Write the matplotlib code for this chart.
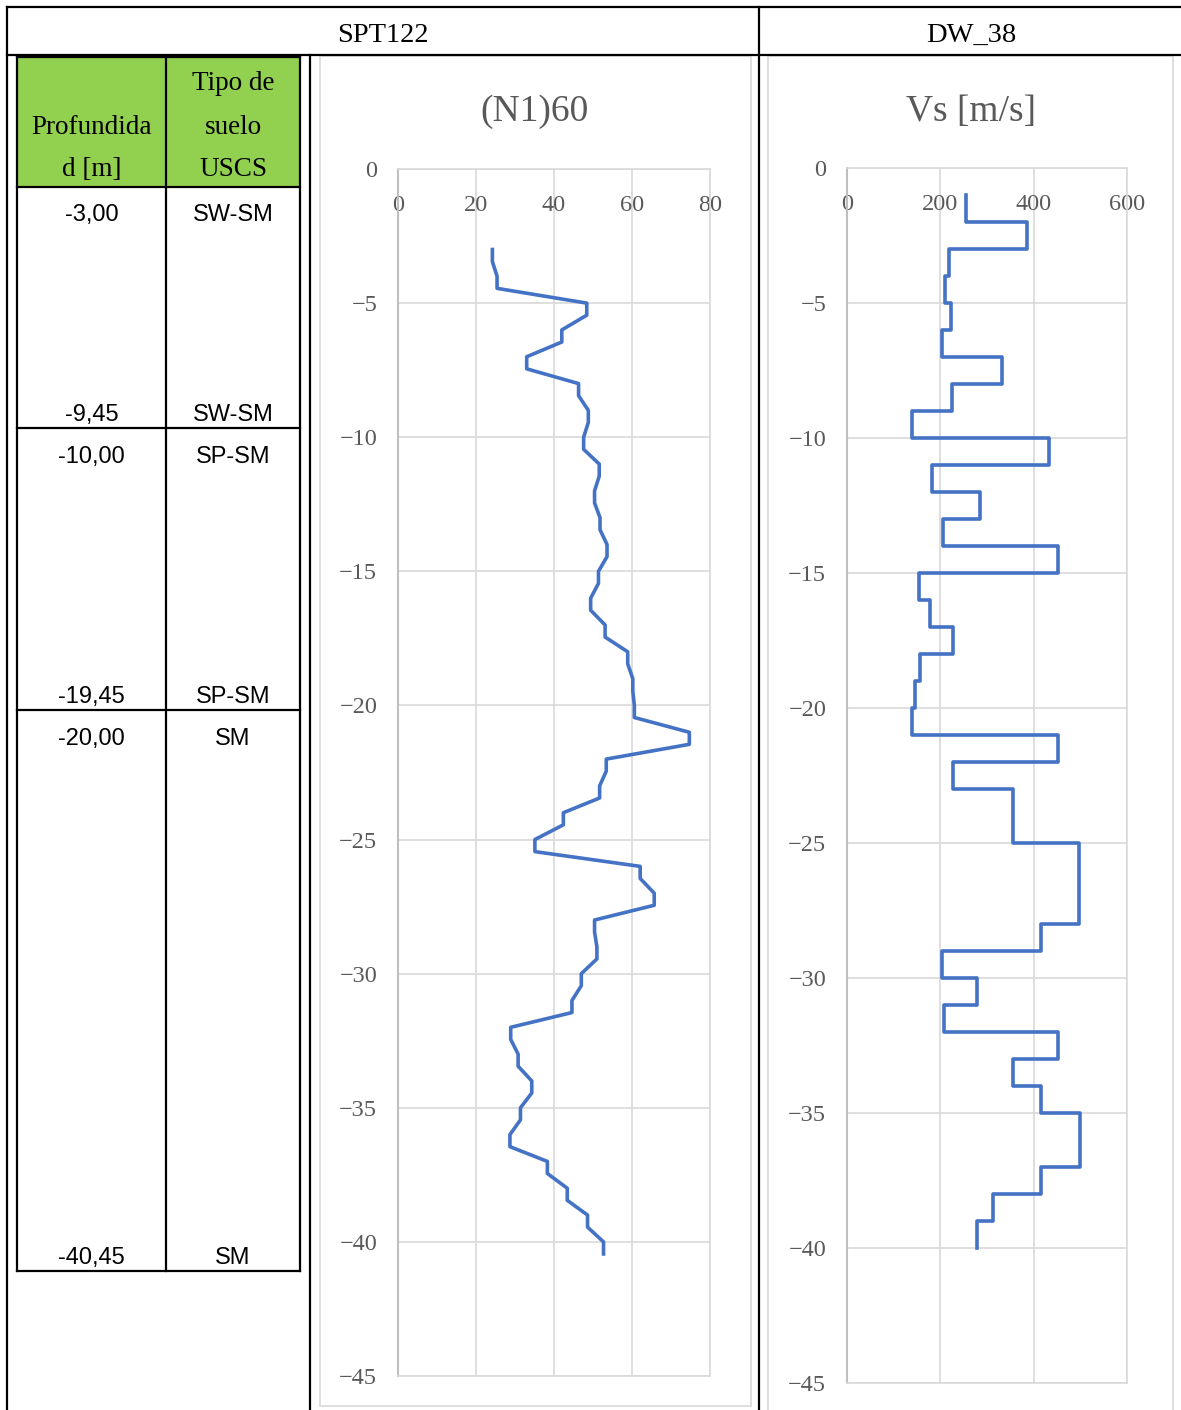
import matplotlib
matplotlib.use('Agg')
import matplotlib.pyplot as plt
from matplotlib.patches import Rectangle
import numpy as np

# SPT122 - (N1)60, one value per test depth (test from d to d+0.45 m)
n1_depths = list(range(3, 41))
n1_values = [24.2, 25.4, 48.4, 42.0, 33.0, 46.3, 48.8, 47.6, 51.6, 50.4,
             51.8, 53.6, 51.4, 49.4, 53.1, 58.9, 60.2, 60.6, 74.7, 53.4,
             51.7, 42.4, 35.1, 62.1, 65.7, 50.4, 51.0, 47.0, 44.6, 28.9,
             30.8, 34.3, 31.4, 28.7, 38.3, 43.4, 48.6, 52.7]

# DW_38 - Vs [m/s], 1 m layers from 1 m to 40 m
vs_tops = list(range(1, 40))
vs_values = [256, 386, 218, 210, 223, 204, 332, 225, 140, 433,
             183, 286, 206, 453, 155, 178, 228, 156, 146, 140,
             453, 227, 356, 356, 498, 498, 498, 416, 203, 278,
             208, 453, 356, 416, 500, 500, 416, 312, 278]

# left table
prof_labels = ['-3,00', '-9,45', '-10,00', '-19,45', '-20,00', '-40,45']
uscs_labels = ['SW-SM', 'SW-SM', 'SP-SM', 'SP-SM', 'SM', 'SM']

SERIF = 'Liberation Serif'
SANS = 'Liberation Sans'
GRAY = '#595959'
GRID = '#D9D9D9'
BLUE = '#4472C4'

W, H = 1181, 1410
fig = plt.figure(figsize=(W / 100, H / 100), dpi=100)


def rect(x0, y0, x1, y1):
    return [x0 / W, 1 - y1 / H, (x1 - x0) / W, (y1 - y0) / H]


bg = fig.add_axes([0, 0, 1, 1])
bg.set_xlim(0, W)
bg.set_ylim(H, 0)
bg.axis('off')

# outer table lines
lw = 1.6
bg.plot([7, W], [7, 7], color='black', lw=lw)
bg.plot([7, W], [55, 55], color='black', lw=lw)
bg.plot([7, 7], [7, H], color='black', lw=lw)
bg.plot([759, 759], [7, H], color='black', lw=lw)
bg.plot([310, 310], [55, H], color='black', lw=lw)
bg.text(383, 35, 'SPT122', family=SERIF, fontsize=20.5, ha='center', va='center')
bg.text(971, 35, 'DW_38', family=SERIF, fontsize=20.5, ha='center', va='center')

# left table
bg.add_patch(Rectangle((17, 57), 283, 130, facecolor='#92D050', edgecolor='none'))
for x in [17, 166, 300]:
    bg.plot([x, x], [57, 1271], color='black', lw=lw)
for y in [57, 187, 428, 710, 1271]:
    bg.plot([17, 300], [y, y], color='black', lw=lw)
bg.text(91.5, 127, 'Profundida', family=SERIF, fontsize=19.5, ha='center', va='center')
bg.text(91.5, 169, 'd [m]', family=SERIF, fontsize=19.5, ha='center', va='center')
for t, y in zip(['Tipo de', 'suelo', 'USCS'], [84, 127, 169]):
    bg.text(233, y, t, family=SERIF, fontsize=19.5, ha='center', va='center')
text_y = [215, 415, 457, 697, 739, 1258]
for p, u, y in zip(prof_labels, uscs_labels, text_y):
    bg.text(91.5, y, p, family=SANS, fontsize=17, ha='center', va='center')
    bg.text(233, y, u, family=SANS, fontsize=17, ha='center', va='center')

# chart frames
bg.add_patch(Rectangle((320, 56), 431, 1350, facecolor='none', edgecolor=GRID, lw=1.2))
bg.add_patch(Rectangle((768, 56), 405, 1380, facecolor='none', edgecolor=GRID, lw=1.2))
bg.text(535, 112, '(N1)60', family=SERIF, fontsize=27, color=GRAY, ha='center', va='center')
bg.text(971, 112, 'Vs [m/s]', family=SERIF, fontsize=27, color=GRAY, ha='center', va='center')


def style(ax, xmax, xstep):
    ax.set_facecolor('none')
    ax.set_xlim(0, xmax)
    ax.set_ylim(-45, 0)
    ax.set_xticks(np.arange(0, xmax + 1, xstep))
    ax.set_yticks(np.arange(-45, 1, 5))
    ax.grid(True, color=GRID, lw=1.2)
    for s in ['top', 'right', 'bottom']:
        ax.spines[s].set_color(GRID)
        ax.spines[s].set_linewidth(1.2)
    ax.spines['left'].set_color('#BFBFBF')
    ax.spines['left'].set_linewidth(1.5)
    ax.tick_params(axis='y', length=0, pad=15, labelsize=17.5, labelcolor=GRAY)
    ax.tick_params(axis='x', length=0, bottom=False, labelbottom=False,
                   labeltop=True, pad=-34, labelsize=17.5, labelcolor=GRAY)
    for lab in ax.get_xticklabels() + ax.get_yticklabels():
        lab.set_family(SERIF)


# (N1)60 profile
ax1 = fig.add_axes(rect(398, 169, 710, 1376))
style(ax1, 80, 20)
n1_x = np.repeat(n1_values, 2)
n1_y = -np.column_stack([n1_depths, np.array(n1_depths) + 0.45]).ravel()
ax1.plot(n1_x, n1_y, color=BLUE, lw=2.6, solid_joinstyle='round', clip_on=False)

# Vs profile
ax2 = fig.add_axes(rect(847, 168, 1127, 1383))
style(ax2, 600, 200)
vs_x = np.repeat(vs_values, 2)
vs_y = -np.column_stack([vs_tops, np.array(vs_tops) + 1]).ravel()
ax2.plot(vs_x, vs_y, color=BLUE, lw=2.6, solid_joinstyle='round', clip_on=False)

fig.savefig('out.png', dpi=100)
